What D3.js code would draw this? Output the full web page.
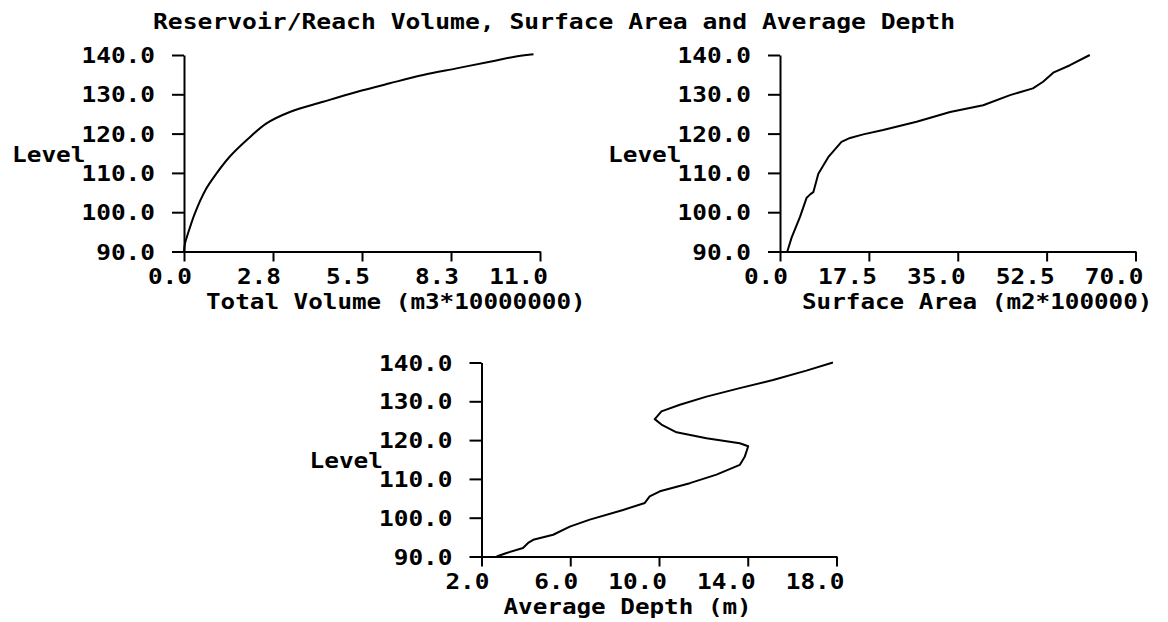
<!DOCTYPE html>
<html>
<head>
<meta charset="utf-8">
<script src="https://cdn.jsdelivr.net/npm/d3@7"></script>
<style>
  body { margin: 0; background: #fff; }
  svg { display: block; }
</style>
</head>
<body>
<svg id="drawing_region"></svg>
<script>
// level ticks shared by all three plots
const levelTicks = [90, 100, 110, 120, 130, 140];
const levelLabels = ["90.0", "100.0", "110.0", "120.0", "130.0", "140.0"];

// total volume (m3*10000000) vs level
const volumeTicks = [0, 2.75, 5.5, 8.25, 11];
const volumeLabels = ["0.0", "2.8", "5.5", "8.3", "11.0"];
const volumeLevel = [90, 92, 94.5, 99.6, 105.6, 109.8, 114.1, 118.3, 122.6, 125.5, 128.1, 130.6, 132.8, 134.9, 136.6, 138.3, 139.7, 140.2];
const volumeValue = [0, 0.03, 0.12, 0.33, 0.66, 1.0, 1.41, 1.93, 2.55, 3.27, 4.3, 5.33, 6.36, 7.39, 8.42, 9.45, 10.3, 10.8];

// surface area (m2*100000) vs level
const areaTicks = [0, 17.5, 35, 52.5, 70];
const areaLabels = ["0.0", "17.5", "35.0", "52.5", "70.0"];
const areaLevel = [90, 93.6, 98.8, 103.7, 104.6, 105.1, 109.8, 114.0, 117.9, 118.9, 119.8, 120.9, 123.0, 125.5, 127.2, 129.8, 131.5, 133.2, 135.5, 137.4, 140];
const areaValue = [1.44, 2.3, 3.94, 5.25, 6.0, 6.56, 7.55, 9.5, 12.1, 13.8, 16.4, 20.3, 26.9, 33.5, 40.0, 45.3, 49.8, 51.8, 53.8, 57.1, 61.0];

// average depth (m) vs level
const depthLevel = [90, 90.9, 92.2, 93.5, 94.3, 95.6, 97.7, 99.5, 102.0, 103.8, 105.5, 106.8, 108.9, 111.1, 113.6, 115.8, 118.4, 119.2, 120.5, 122.0, 124.0, 125.4, 127.4, 129.1, 131.2, 133.4, 135.5, 137.9, 140];
const depthValue = [2.68, 3.13, 3.87, 4.1, 4.33, 5.23, 5.98, 6.88, 8.38, 9.36, 9.58, 10.04, 11.39, 12.59, 13.64, 13.87, 14.02, 13.64, 12.14, 10.79, 10.11, 9.81, 10.11, 10.94, 12.14, 13.64, 15.14, 16.64, 17.84];
const depthTicks = [2, 6, 10, 14, 18];
const depthLabels = ["2.0", "6.0", "10.0", "14.0", "18.0"];

const FONT = "'DejaVu Sans Mono', 'Liberation Mono', monospace";
const FONT_SIZE = 21;
const CHAR_W = 14.7;

const svg = d3.select('#drawing_region')
    .attr('width', 1168)
    .attr('height', 622);

svg.append('text')
    .attr('x', 153)
    .attr('y', 21)
    .attr('dy', '0.36em')
    .attr('font-family', FONT)
    .attr('font-weight', 'bold')
    .attr('font-size', FONT_SIZE)
    .attr('textLength', 802)
    .attr('lengthAdjust', 'spacingAndGlyphs')
    .text('Reservoir/Reach Volume, Surface Area and Average Depth');

class LevelPlot {

    constructor( config, xs, levels ) {
        this.config = config;
        this.data = xs.map((v, i) => ({ x: v, level: levels[i] }));
        this.init();
    }

    init() {
        let self = this;
        let c = self.config;

        self.g = svg.append('g');

        self.xscale = d3.scaleLinear()
            .domain([c.ticks[0], c.ticks[c.ticks.length - 1]])
            .range([c.left, c.right]);

        self.yscale = d3.scaleLinear()
            .domain([90, 140])
            .range([c.bottom, c.top]);
    }

    render() {
        let self = this;
        let c = self.config;

        // y axis with stubs on the left
        const yaxis = self.g.append('g')
            .attr('transform', `translate(${c.left},0)`)
            .call(d3.axisLeft(self.yscale)
                .tickValues(levelTicks)
                .tickSize(12)
                .tickSizeOuter(0)
                .tickFormat((d, i) => levelLabels[i]));

        // x axis with ticks downward
        const xaxis = self.g.append('g')
            .attr('transform', `translate(0,${c.bottom})`)
            .call(d3.axisBottom(self.xscale)
                .tickValues(c.ticks)
                .tickSize(10)
                .tickSizeOuter(0)
                .tickFormat((d, i) => c.labels[i]));

        [yaxis, xaxis].forEach(a => {
            a.attr('font-family', FONT).attr('font-size', FONT_SIZE).attr('font-weight', 'bold');
            a.selectAll('path, line').attr('stroke', '#000').attr('stroke-width', 2);
            a.selectAll('text')
                .attr('fill', '#000')
                .attr('textLength', function() { return this.textContent.length * CHAR_W; })
                .attr('lengthAdjust', 'spacingAndGlyphs');
        });

        yaxis.selectAll('text')
            .attr('x', -29)
            .attr('dy', '0.36em');

        xaxis.selectAll('text')
            .attr('text-anchor', 'end')
            .attr('x', 7.5)
            .attr('y', 25)
            .attr('dy', '0.36em');

        const line = d3.line()
            .x(d => self.xscale(d.x))
            .y(d => self.yscale(d.level))
            .curve(c.curve || d3.curveLinear);

        self.g.append('path')
            .datum(self.data)
            .attr('d', line)
            .attr('fill', 'none')
            .attr('stroke', '#000')
            .attr('stroke-width', 2)
            .attr('stroke-linejoin', 'round');

        self.g.append('text')
            .attr('x', c.left - 172)
            .attr('y', (c.top + c.bottom) / 2 + 1)
            .attr('dy', '0.36em')
            .attr('font-family', FONT)
            .attr('font-weight', 'bold')
            .attr('font-size', FONT_SIZE)
            .attr('textLength', 5 * CHAR_W)
            .attr('lengthAdjust', 'spacingAndGlyphs')
            .text('Level');

        self.g.append('text')
            .attr('x', c.left + 22)
            .attr('y', c.bottom + 50)
            .attr('dy', '0.36em')
            .attr('font-family', FONT)
            .attr('font-weight', 'bold')
            .attr('font-size', FONT_SIZE)
            .attr('textLength', c.title.length * 14.6)
            .attr('lengthAdjust', 'spacingAndGlyphs')
            .text(c.title);
    }
}

new LevelPlot({
    left: 184, right: 540, top: 55, bottom: 251.5,
    ticks: volumeTicks, labels: volumeLabels,
    title: 'Total Volume (m3*10000000)',
    curve: d3.curveCatmullRom.alpha(0.5)
}, volumeValue, volumeLevel).render();

new LevelPlot({
    left: 780, right: 1135.5, top: 55, bottom: 251.5,
    ticks: areaTicks, labels: areaLabels,
    title: 'Surface Area (m2*100000)'
}, areaValue, areaLevel).render();

new LevelPlot({
    left: 481.5, right: 836.5, top: 362.5, bottom: 556.5,
    ticks: depthTicks, labels: depthLabels,
    title: 'Average Depth (m)'
}, depthValue, depthLevel).render();
</script>
</body>
</html>
